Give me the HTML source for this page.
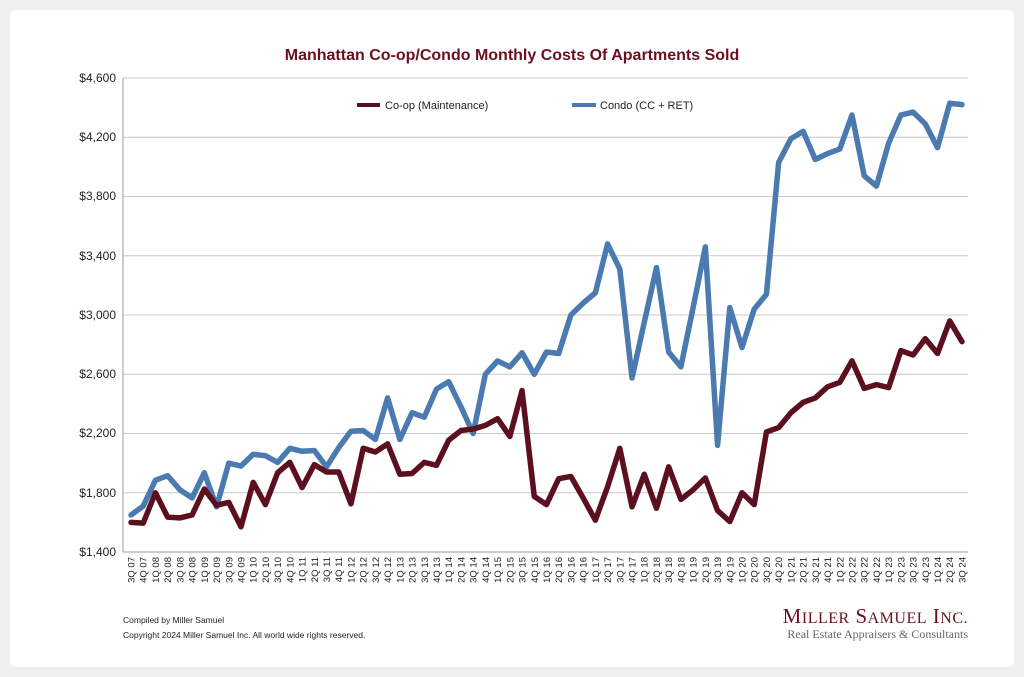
<!DOCTYPE html>
<html><head><meta charset="utf-8"><style>
body{margin:0;background:#efefef;width:1024px;height:677px;overflow:hidden}
svg{display:block;font-family:"Liberation Sans",Arial,sans-serif}
</style></head><body>
<svg width="1024" height="677" viewBox="0 0 1024 677">
<rect x="10" y="10" width="1004" height="657" rx="6" fill="#fff"/>
<text x="512" y="60" text-anchor="middle" font-size="16" font-weight="bold" fill="#6b1020">Manhattan Co-op/Condo Monthly Costs Of Apartments Sold</text>
<g stroke="#c8c8c8" stroke-width="1">
<line x1="123" x2="968" y1="78" y2="78"/><line x1="123" x2="968" y1="137.25" y2="137.25"/><line x1="123" x2="968" y1="196.5" y2="196.5"/><line x1="123" x2="968" y1="255.75" y2="255.75"/><line x1="123" x2="968" y1="315" y2="315"/><line x1="123" x2="968" y1="374.25" y2="374.25"/><line x1="123" x2="968" y1="433.5" y2="433.5"/><line x1="123" x2="968" y1="492.75" y2="492.75"/>
</g>
<line x1="123" x2="968" y1="552" y2="552" stroke="#999"/>
<line x1="123" x2="123" y1="78" y2="552" stroke="#999"/>
<g font-size="12" fill="#222" text-anchor="end">
<text x="116" y="82">$4,600</text><text x="116" y="141">$4,200</text><text x="116" y="200">$3,800</text><text x="116" y="260">$3,400</text><text x="116" y="319">$3,000</text><text x="116" y="378">$2,600</text><text x="116" y="437">$2,200</text><text x="116" y="497">$1,800</text><text x="116" y="556">$1,400</text>
</g>
<g font-size="12" fill="#222">
<line x1="357" x2="380" y1="105" y2="105" stroke="#5c0f1e" stroke-width="4"/>
<text x="385" y="109" font-size="11">Co-op (Maintenance)</text>
<line x1="572" x2="596" y1="105" y2="105" stroke="#4a7ab0" stroke-width="4"/>
<text x="600" y="109" font-size="11">Condo (CC + RET)</text>
</g>
<g transform="translate(131,552) scale(12.22,-0.148125) translate(0,-1400)" fill="none" stroke-linejoin="round" stroke-linecap="round">
<polyline vector-effect="non-scaling-stroke" stroke="#4a7ab0" stroke-width="5.5" points="0,1650 1,1710 2,1885 3,1915 4,1820 5,1765 6,1935 7,1705 8,2000 9,1980 10,2060 11,2050 12,2005 13,2100 14,2080 15,2085 16,1975 17,2105 18,2215 19,2220 20,2160 21,2440 22,2160 23,2340 24,2310 25,2500 26,2550 27,2380 28,2200 29,2600 30,2690 31,2650 32,2745 33,2600 34,2750 35,2740 36,3000 37,3080 38,3150 39,3480 40,3310 41,2575 42,2950 43,3320 44,2750 45,2650 46,3050 47,3460 48,2120 49,3050 50,2780 51,3040 52,3140 53,4030 54,4190 55,4240 56,4050 57,4090 58,4120 59,4350 60,3940 61,3870 62,4160 63,4350 64,4370 65,4290 66,4130 67,4430 68,4420"/>
<polyline vector-effect="non-scaling-stroke" stroke="#5c0f1e" stroke-width="5.5" points="0,1600 1,1595 2,1800 3,1635 4,1630 5,1650 6,1825 7,1715 8,1735 9,1570 10,1870 11,1720 12,1935 13,2005 14,1835 15,1990 16,1940 17,1940 18,1725 19,2100 20,2075 21,2130 22,1925 23,1930 24,2005 25,1985 26,2155 27,2220 28,2230 29,2255 30,2300 31,2180 32,2490 33,1775 34,1720 35,1895 36,1910 37,1765 38,1615 39,1840 40,2100 41,1705 42,1925 43,1695 44,1975 45,1755 46,1820 47,1900 48,1680 49,1605 50,1800 51,1720 52,2210 53,2240 54,2340 55,2410 56,2440 57,2515 58,2545 59,2690 60,2505 61,2530 62,2510 63,2760 64,2730 65,2840 66,2740 67,2960 68,2820"/>
</g>
<g font-size="9.5" fill="#222" text-anchor="end">
<text transform="translate(134.5,557) rotate(-90)">3Q 07</text><text transform="translate(146.7,557) rotate(-90)">4Q 07</text><text transform="translate(158.9,557) rotate(-90)">1Q 08</text><text transform="translate(171.2,557) rotate(-90)">2Q 08</text><text transform="translate(183.4,557) rotate(-90)">3Q 08</text><text transform="translate(195.6,557) rotate(-90)">4Q 08</text><text transform="translate(207.8,557) rotate(-90)">1Q 09</text><text transform="translate(220,557) rotate(-90)">2Q 09</text><text transform="translate(232.3,557) rotate(-90)">3Q 09</text><text transform="translate(244.5,557) rotate(-90)">4Q 09</text><text transform="translate(256.7,557) rotate(-90)">1Q 10</text><text transform="translate(268.9,557) rotate(-90)">2Q 10</text><text transform="translate(281.1,557) rotate(-90)">3Q 10</text><text transform="translate(293.4,557) rotate(-90)">4Q 10</text><text transform="translate(305.6,557) rotate(-90)">1Q 11</text><text transform="translate(317.8,557) rotate(-90)">2Q 11</text><text transform="translate(330,557) rotate(-90)">3Q 11</text><text transform="translate(342.2,557) rotate(-90)">4Q 11</text><text transform="translate(354.5,557) rotate(-90)">1Q 12</text><text transform="translate(366.7,557) rotate(-90)">2Q 12</text><text transform="translate(378.9,557) rotate(-90)">3Q 12</text><text transform="translate(391.1,557) rotate(-90)">4Q 12</text><text transform="translate(403.3,557) rotate(-90)">1Q 13</text><text transform="translate(415.6,557) rotate(-90)">2Q 13</text><text transform="translate(427.8,557) rotate(-90)">3Q 13</text><text transform="translate(440,557) rotate(-90)">4Q 13</text><text transform="translate(452.2,557) rotate(-90)">1Q 14</text><text transform="translate(464.4,557) rotate(-90)">2Q 14</text><text transform="translate(476.7,557) rotate(-90)">3Q 14</text><text transform="translate(488.9,557) rotate(-90)">4Q 14</text><text transform="translate(501.1,557) rotate(-90)">1Q 15</text><text transform="translate(513.3,557) rotate(-90)">2Q 15</text><text transform="translate(525.5,557) rotate(-90)">3Q 15</text><text transform="translate(537.8,557) rotate(-90)">4Q 15</text><text transform="translate(550,557) rotate(-90)">1Q 16</text><text transform="translate(562.2,557) rotate(-90)">2Q 16</text><text transform="translate(574.4,557) rotate(-90)">3Q 16</text><text transform="translate(586.6,557) rotate(-90)">4Q 16</text><text transform="translate(598.9,557) rotate(-90)">1Q 17</text><text transform="translate(611.1,557) rotate(-90)">2Q 17</text><text transform="translate(623.3,557) rotate(-90)">3Q 17</text><text transform="translate(635.5,557) rotate(-90)">4Q 17</text><text transform="translate(647.7,557) rotate(-90)">1Q 18</text><text transform="translate(660,557) rotate(-90)">2Q 18</text><text transform="translate(672.2,557) rotate(-90)">3Q 18</text><text transform="translate(684.4,557) rotate(-90)">4Q 18</text><text transform="translate(696.6,557) rotate(-90)">1Q 19</text><text transform="translate(708.8,557) rotate(-90)">2Q 19</text><text transform="translate(721.1,557) rotate(-90)">3Q 19</text><text transform="translate(733.3,557) rotate(-90)">4Q 19</text><text transform="translate(745.5,557) rotate(-90)">1Q 20</text><text transform="translate(757.7,557) rotate(-90)">2Q 20</text><text transform="translate(769.9,557) rotate(-90)">3Q 20</text><text transform="translate(782.2,557) rotate(-90)">4Q 20</text><text transform="translate(794.4,557) rotate(-90)">1Q 21</text><text transform="translate(806.6,557) rotate(-90)">2Q 21</text><text transform="translate(818.8,557) rotate(-90)">3Q 21</text><text transform="translate(831,557) rotate(-90)">4Q 21</text><text transform="translate(843.3,557) rotate(-90)">1Q 22</text><text transform="translate(855.5,557) rotate(-90)">2Q 22</text><text transform="translate(867.7,557) rotate(-90)">3Q 22</text><text transform="translate(879.9,557) rotate(-90)">4Q 22</text><text transform="translate(892.1,557) rotate(-90)">1Q 23</text><text transform="translate(904.4,557) rotate(-90)">2Q 23</text><text transform="translate(916.6,557) rotate(-90)">3Q 23</text><text transform="translate(928.8,557) rotate(-90)">4Q 23</text><text transform="translate(941,557) rotate(-90)">1Q 24</text><text transform="translate(953.2,557) rotate(-90)">2Q 24</text><text transform="translate(965.5,557) rotate(-90)">3Q 24</text>
</g>
<g font-size="8.5" fill="#222">
<text x="123" y="623">Compiled by Miller Samuel</text>
<text x="123" y="638">Copyright 2024 Miller Samuel Inc.  All world wide rights reserved.</text>
</g>
<text x="968" y="623" text-anchor="end" font-family="Liberation Serif,serif" font-size="21" fill="#6b1020" letter-spacing="0.5">M<tspan font-size="16">ILLER</tspan> S<tspan font-size="16">AMUEL</tspan> I<tspan font-size="16">NC.</tspan></text>
<text x="968" y="638" text-anchor="end" font-family="Liberation Serif,serif" font-size="12" fill="#666">Real Estate Appraisers &amp; Consultants</text>
</svg>
</body></html>
